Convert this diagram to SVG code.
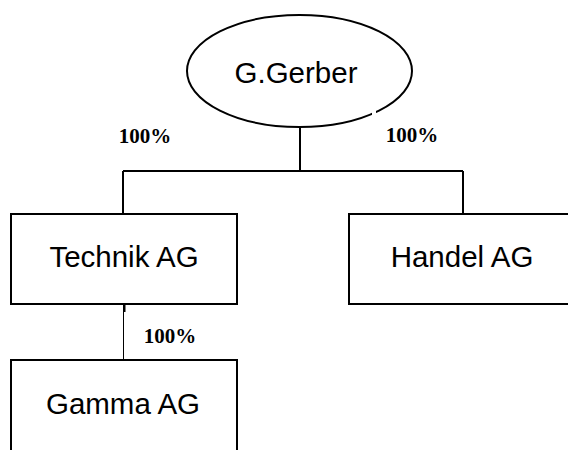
<svg xmlns="http://www.w3.org/2000/svg" width="568" height="450" viewBox="0 0 568 450">
<style>
.shape{fill:#fff;stroke:#000;stroke-width:2}
.name{font-family:"Liberation Sans",Arial,sans-serif;font-size:29.5px;fill:#000;text-anchor:middle}
.pct{font-family:"Liberation Serif","Times New Roman",serif;font-size:21px;font-weight:bold;fill:#000;text-anchor:middle}
.conn{fill:none;stroke:#000;stroke-width:2}
</style>
<rect width="568" height="450" fill="#fff"/>
<g id="connectors">
<path class="conn" d="M300 127V171M123 171H463M123 171V214M463 171V214"/>
<path class="conn" d="M124.5 304V312"/>
<path fill="none" stroke="#000" stroke-width="1" d="M123.5 304V360"/>
</g>
<g id="node-gerber">
<ellipse class="shape" cx="299.5" cy="71" rx="112.5" ry="56"/>
<rect x="372" y="111" width="4" height="8" fill="#fff"/>
<text class="name" x="296" y="83">G.Gerber</text>
</g>
<g id="node-technik">
<rect class="shape" x="11" y="214" width="226" height="90"/>
<text class="name" x="124" y="267">Technik AG</text>
</g>
<g id="node-handel">
<rect class="shape" x="349" y="214" width="227" height="90"/>
<text class="name" x="462" y="267">Handel AG</text>
</g>
<g id="node-gamma">
<path class="shape" d="M11 452V360H237V452"/>
<text class="name" x="123" y="414">Gamma AG</text>
</g>
<g id="labels">
<text class="pct" x="145" y="143">100%</text>
<text class="pct" x="412" y="142">100%</text>
<text class="pct" x="170" y="343">100%</text>
</g>
</svg>
